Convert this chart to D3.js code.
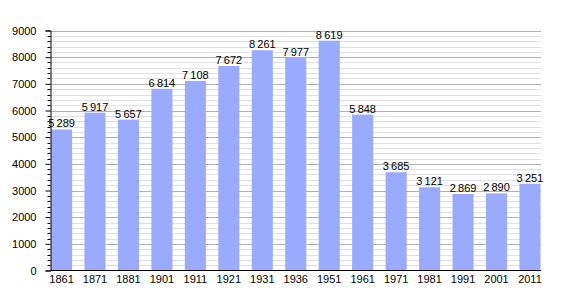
<!DOCTYPE html>
<html>
<head>
<meta charset="utf-8">
<script src="https://cdn.jsdelivr.net/npm/d3@7"></script>
<style>
  body { margin: 0; background: #fff; }
  svg text { font-family: "Liberation Sans", Arial, sans-serif; fill: #000; }
</style>
</head>
<body>
<div id="chart"></div>
<script>
var years = ["1861", "1871", "1881", "1901", "1911", "1921", "1931", "1936", "1951", "1961", "1971", "1981", "1991", "2001", "2011"];
var population = [5289, 5917, 5657, 6814, 7108, 7672, 8261, 7977, 8619, 5848, 3685, 3121, 2869, 2890, 3251];
var yTicks = [0, 1000, 2000, 3000, 4000, 5000, 6000, 7000, 8000, 9000];

var w = 570;
var h = 300;
var plotL = 50.5, plotR = 541, plotT = 30.5, plotB = 270.5;

var svg = d3.select("#chart")
            .append("svg")
            .attr("width", w)
            .attr("height", h);

var xScale = d3.scaleBand()
    .domain(years)
    .range([plotL + 0.5, plotR - 0.5])
    .paddingInner(0.37)
    .paddingOuter(0);

var yScale = d3.scaleLinear()
    .domain([0, 9000])
    .range([plotB, plotT]);

var fmt = d3.formatLocale({decimal: ",", thousands: "\u2009", grouping: [3], currency: ["", ""]}).format(",d");

// grid: minor every 200, major every 1000
var minor = d3.range(200, 9001, 200).filter(v => v % 1000 !== 0);
svg.append("g").selectAll("line")
    .data(minor)
    .enter()
    .append("line")
    .attr("x1", plotL).attr("x2", plotR)
    .attr("y1", d => Math.round(yScale(d)) + 0.5)
    .attr("y2", d => Math.round(yScale(d)) + 0.5)
    .attr("stroke", "#e0e0e0");
svg.append("g").selectAll("line")
    .data(yTicks.slice(1))
    .enter()
    .append("line")
    .attr("x1", plotL).attr("x2", plotR)
    .attr("y1", d => Math.round(yScale(d)) + 0.5)
    .attr("y2", d => Math.round(yScale(d)) + 0.5)
    .attr("stroke", "#b0b0b0");

// bars
svg.selectAll(".bar")
    .data(population)
    .enter()
    .append("rect")
    .attr("class", "bar")
    .attr("x", (d, i) => xScale(years[i]))
    .attr("y", d => yScale(d))
    .attr("width", xScale.bandwidth())
    .attr("height", d => plotB - yScale(d))
    .attr("fill", "#99aaff");

// value labels
svg.selectAll(".lbl")
    .data(population)
    .enter()
    .append("text")
    .attr("class", "lbl")
    .attr("x", (d, i) => xScale(years[i]) + xScale.bandwidth() / 2)
    .attr("y", d => yScale(d) - 2)
    .attr("text-anchor", "middle")
    .attr("font-size", "11px")
    .text(d => fmt(d));

// y axis minor ticks
svg.append("g").selectAll("line")
    .data(minor)
    .enter()
    .append("line")
    .attr("x1", plotL - 3).attr("x2", plotL)
    .attr("y1", d => Math.round(yScale(d)) + 0.5)
    .attr("y2", d => Math.round(yScale(d)) + 0.5)
    .attr("stroke", "#000");

var yAxis = d3.axisLeft(yScale)
    .tickValues(yTicks)
    .tickFormat(d3.format("d"))
    .tickSize(5)
    .tickPadding(9);
var gy = svg.append("g")
    .attr("transform", "translate(" + plotL + ",0)")
    .call(yAxis);
gy.attr("font-family", null).attr("font-size", "11px");

var xAxis = d3.axisBottom(xScale)
    .tickSize(0)
    .tickPadding(5);
var gx = svg.append("g")
    .attr("transform", "translate(0," + plotB + ")")
    .call(xAxis);
gx.select(".domain").attr("d", "M" + plotL + ",0H" + plotR);
gx.attr("font-family", null).attr("font-size", "11px");
</script>
</body>
</html>
